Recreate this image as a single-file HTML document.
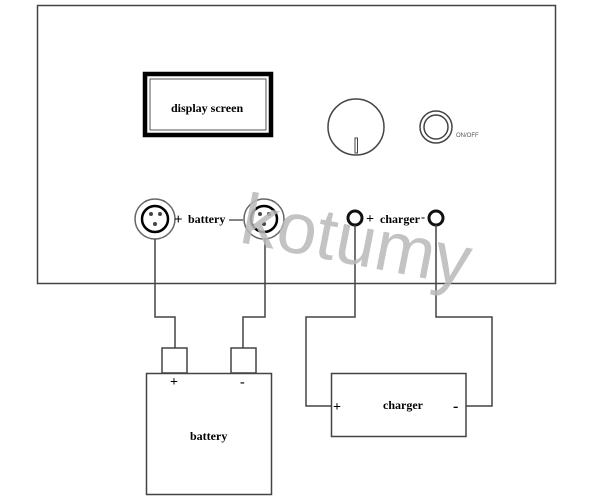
<!DOCTYPE html>
<html><head><style>body{margin:0;background:#fff}</style></head><body>
<svg width="600" height="499" xmlns="http://www.w3.org/2000/svg" style="display:block">
<g fill="none" stroke="#444" stroke-width="1.5">
<rect x="37.5" y="5.5" width="518" height="278"/>
<rect x="145" y="74" width="126" height="61" stroke="#000" stroke-width="4.5"/>
<rect x="150" y="79" width="116" height="51" stroke="#555" stroke-width="1"/>
<circle cx="356" cy="127" r="28"/>
<rect x="355" y="138" width="2.5" height="15" stroke-width="1"/>
<circle cx="436" cy="127" r="16"/>
<circle cx="436" cy="127" r="12"/>
<circle cx="155" cy="219" r="20" stroke="#666"/>
<circle cx="155" cy="219" r="13" stroke="#000" stroke-width="2.5"/>
<circle cx="264" cy="219" r="20" stroke="#666"/>
<circle cx="264" cy="219" r="13" stroke="#000" stroke-width="2.5"/>
<circle cx="355" cy="218" r="7" stroke="#111" stroke-width="3"/>
<circle cx="436" cy="218" r="7" stroke="#111" stroke-width="3"/>
<polyline points="155,239 155,317 175,317 175,348"/>
<polyline points="265,239 265,317 243,317 243,348"/>
<rect x="162" y="348" width="25" height="25"/>
<rect x="231" y="348" width="25" height="25"/>
<rect x="146.5" y="373.5" width="125" height="121"/>
<polyline points="355,225 355,317 306,317 306,406 331,406"/>
<polyline points="436,225 436,317 492,317 492,406 466,406"/>
<rect x="331.5" y="373.5" width="134.5" height="63"/>
</g>
<g fill="#444">
<circle cx="151" cy="214" r="2"/><circle cx="160" cy="214" r="2"/><circle cx="155" cy="224" r="2"/>
<circle cx="260" cy="214" r="2"/><circle cx="269" cy="214" r="2"/><circle cx="264" cy="224" r="2"/>
</g>
<g font-family="Liberation Serif, serif" fill="#000">
<text x="171" y="112" font-size="12" font-weight="bold">display screen</text>
<text x="456" y="137" font-size="6" font-family="Liberation Sans, sans-serif" fill="#555">ON/OFF</text>
<text x="174" y="224" font-size="15" font-weight="bold">+</text>
<text x="188" y="223" font-size="12" font-weight="bold">battery</text>
<text x="229" y="223" font-size="14" font-weight="bold">—</text>
<text x="366" y="223" font-size="14" font-weight="bold">+</text>
<text x="380" y="223" font-size="12" font-weight="bold">charger</text>
<text x="421" y="221" font-size="12" font-weight="bold">-</text>
<text x="170" y="386" font-size="14" font-weight="bold">+</text>
<text x="240" y="386" font-size="14" font-weight="bold">-</text>
<text x="190" y="440" font-size="12" font-weight="bold">battery</text>
<text x="333" y="411" font-size="14" font-weight="bold">+</text>
<text x="383" y="409" font-size="12" font-weight="bold">charger</text>
<text x="453" y="411" font-size="16" font-weight="bold">-</text>
</g>
<text x="238" y="242" font-family="Liberation Sans, sans-serif" font-size="72" fill="#b8b8b8" fill-opacity="0.85" transform="rotate(11 238 242)">kotumy</text>
</svg>
</body></html>
